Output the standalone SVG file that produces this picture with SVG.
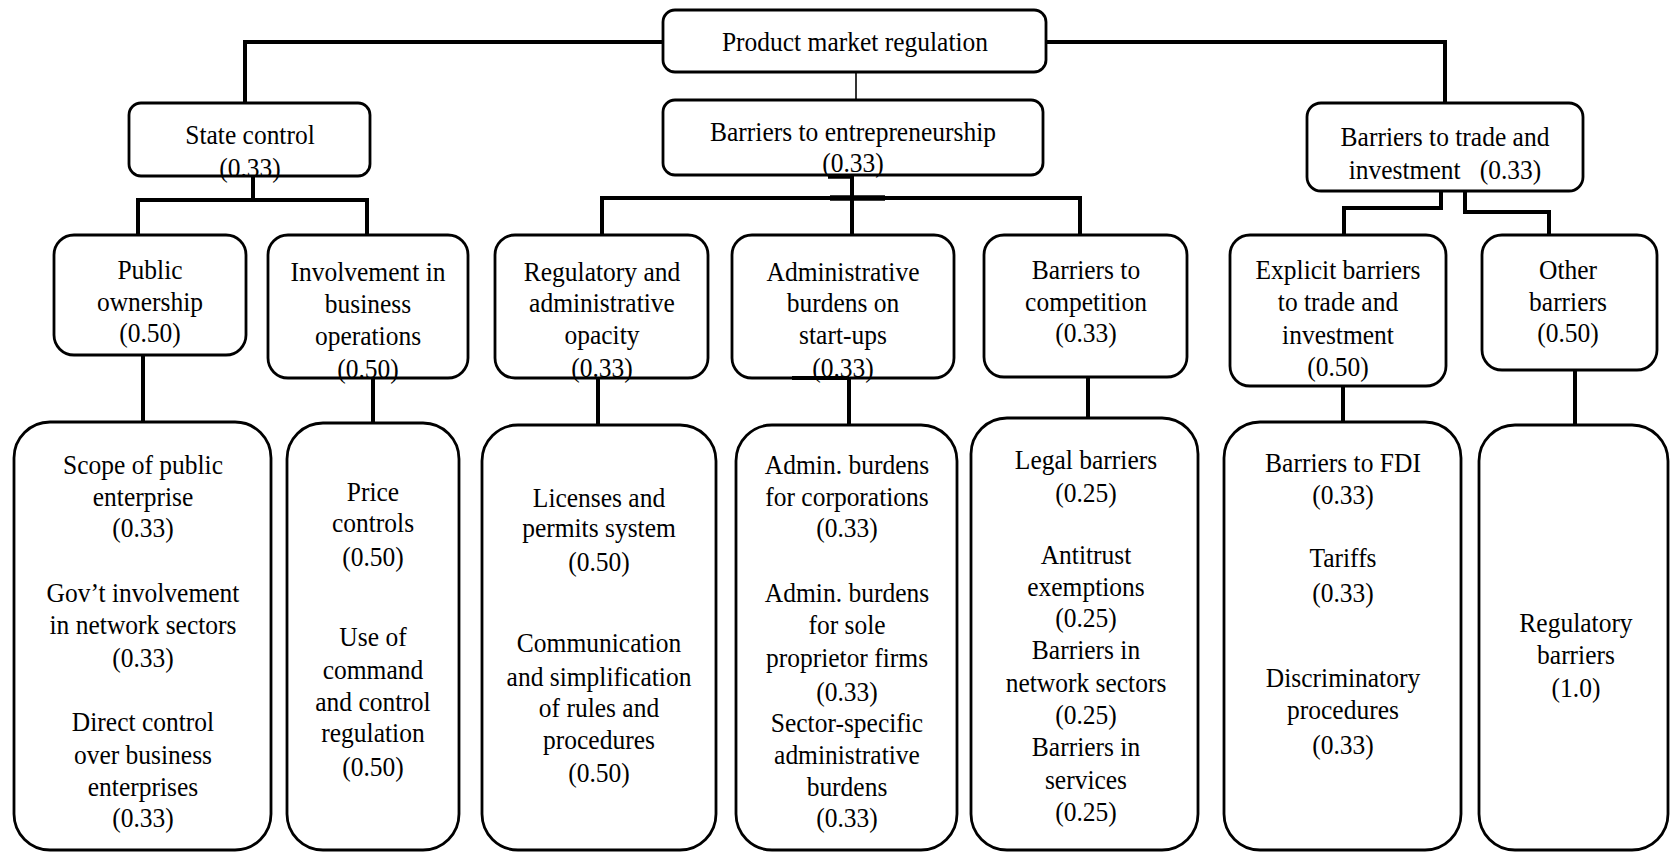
<svg xmlns="http://www.w3.org/2000/svg" width="1671" height="853" viewBox="0 0 1671 853">
<style>
.bx{fill:#fff;stroke:#000;stroke-width:2.8}
.c{fill:none;stroke:#000;stroke-width:4;stroke-linejoin:miter;stroke-linecap:butt}
.thin{fill:none;stroke:#000;stroke-width:1.6}
text{font-family:"Liberation Serif","Times New Roman",serif;font-size:25.5px;fill:#000;text-anchor:middle;transform-box:fill-box;transform-origin:center;transform:scaleY(1.1)}
</style>
<rect width="1671" height="853" fill="#fff"/>
<g id="connectors">
<path class="c" d="M663,42 H245 V103"/>
<path class="c" d="M1046,42 H1445 V103"/>
<path class="thin" d="M856,72 V100"/>
<path class="c" d="M253,176 V200"/>
<path class="c" d="M138,234 V200 H367 V234"/>
<path class="c" d="M852,175 V234"/>
<path class="c" d="M602,234 V198 H1080 V234"/>
<path class="c" d="M830,198 H885" style="stroke-width:5.5"/>
<path class="c" d="M828,177 H852" style="stroke-width:3.5"/>
<path class="c" d="M1441,191 V208 H1344 V234"/>
<path class="c" d="M1465,191 V212 H1549 V234"/>
<path class="c" d="M143,355 V422"/>
<path class="c" d="M373,378 V423"/>
<path class="c" d="M598,378 V425"/>
<path class="c" d="M849,378 V425"/>
<path class="c" d="M1088,377 V418"/>
<path class="c" d="M1343,386 V422"/>
<path class="c" d="M1575,370 V425"/>
</g>
<g id="root">
<rect class="bx" x="663" y="10" width="383" height="62" rx="12"/>
<text x="855" y="50">Product market regulation</text>
</g>
<g id="state-control">
<rect class="bx" x="129" y="103" width="241" height="73" rx="12"/>
<text x="250" y="143">State control</text>
<text x="250" y="176">(0.33)</text>
</g>
<g id="barriers-entrepreneurship">
<rect class="bx" x="663" y="100" width="380" height="75" rx="12"/>
<text x="853" y="140">Barriers to entrepreneurship</text>
<text x="853" y="171">(0.33)</text>
</g>
<g id="barriers-trade">
<rect class="bx" x="1307" y="103" width="276" height="88" rx="14"/>
<text x="1445" y="145">Barriers to trade and</text>
<text x="1445" y="178">investment&#160;&#160; (0.33)</text>
</g>
<g id="public-ownership">
<rect class="bx" x="54" y="235" width="192" height="120" rx="20"/>
<text x="150" y="278">Public</text>
<text x="150" y="310">ownership</text>
<text x="150" y="341">(0.50)</text>
</g>
<g id="involvement">
<rect class="bx" x="268" y="235" width="200" height="143" rx="20"/>
<text x="368" y="280">Involvement in</text>
<text x="368" y="312">business</text>
<text x="368" y="344">operations</text>
<text x="368" y="377">(0.50)</text>
</g>
<g id="regulatory-opacity">
<rect class="bx" x="495" y="235" width="213" height="143" rx="20"/>
<text x="602" y="280">Regulatory and</text>
<text x="602" y="311">administrative</text>
<text x="602" y="343">opacity</text>
<text x="602" y="376">(0.33)</text>
</g>
<g id="admin-burdens">
<rect class="bx" x="732" y="235" width="222" height="143" rx="20"/>
<path d="M792,378 H849" stroke="#000" stroke-width="4"/>
<text x="843" y="280">Administrative</text>
<text x="843" y="311">burdens on</text>
<text x="843" y="343">start-ups</text>
<text x="843" y="376">(0.33)</text>
</g>
<g id="barriers-competition">
<rect class="bx" x="984" y="235" width="203" height="142" rx="20"/>
<text x="1086" y="278">Barriers to</text>
<text x="1086" y="310">competition</text>
<text x="1086" y="341">(0.33)</text>
</g>
<g id="explicit-barriers">
<rect class="bx" x="1230" y="235" width="216" height="151" rx="20"/>
<text x="1338" y="278">Explicit barriers</text>
<text x="1338" y="310">to trade and</text>
<text x="1338" y="343">investment</text>
<text x="1338" y="375">(0.50)</text>
</g>
<g id="other-barriers">
<rect class="bx" x="1482" y="235" width="175" height="135" rx="20"/>
<text x="1568" y="278">Other</text>
<text x="1568" y="310">barriers</text>
<text x="1568" y="341">(0.50)</text>
</g>
<g id="leaf-public">
<rect class="bx" x="14" y="422" width="257" height="428" rx="36"/>
<text x="143" y="473">Scope of public</text>
<text x="143" y="505">enterprise</text>
<text x="143" y="536">(0.33)</text>
<text x="143" y="601">Gov’t involvement</text>
<text x="143" y="633">in network sectors</text>
<text x="143" y="666">(0.33)</text>
<text x="143" y="730">Direct control</text>
<text x="143" y="763">over business</text>
<text x="143" y="795">enterprises</text>
<text x="143" y="826">(0.33)</text>
</g>
<g id="leaf-involvement">
<rect class="bx" x="287" y="423" width="172" height="427" rx="36"/>
<text x="373" y="500">Price</text>
<text x="373" y="531">controls</text>
<text x="373" y="565">(0.50)</text>
<text x="373" y="645">Use of</text>
<text x="373" y="678">command</text>
<text x="373" y="710">and control</text>
<text x="373" y="741">regulation</text>
<text x="373" y="775">(0.50)</text>
</g>
<g id="leaf-regulatory">
<rect class="bx" x="482" y="425" width="234" height="425" rx="36"/>
<text x="599" y="506">Licenses and</text>
<text x="599" y="536">permits system</text>
<text x="599" y="570">(0.50)</text>
<text x="599" y="651">Communication</text>
<text x="599" y="685">and simplification</text>
<text x="599" y="716">of rules and</text>
<text x="599" y="748">procedures</text>
<text x="599" y="781">(0.50)</text>
</g>
<g id="leaf-admin">
<rect class="bx" x="736" y="425" width="221" height="425" rx="36"/>
<text x="847" y="473">Admin. burdens</text>
<text x="847" y="505">for corporations</text>
<text x="847" y="536">(0.33)</text>
<text x="847" y="601">Admin. burdens</text>
<text x="847" y="633">for sole</text>
<text x="847" y="666">proprietor firms</text>
<text x="847" y="700">(0.33)</text>
<text x="847" y="731">Sector-specific</text>
<text x="847" y="763">administrative</text>
<text x="847" y="795">burdens</text>
<text x="847" y="826">(0.33)</text>
</g>
<g id="leaf-competition">
<rect class="bx" x="971" y="418" width="227" height="432" rx="36"/>
<text x="1086" y="468">Legal barriers</text>
<text x="1086" y="501">(0.25)</text>
<text x="1086" y="563">Antitrust</text>
<text x="1086" y="595">exemptions</text>
<text x="1086" y="626">(0.25)</text>
<text x="1086" y="658">Barriers in</text>
<text x="1086" y="691">network sectors</text>
<text x="1086" y="723">(0.25)</text>
<text x="1086" y="755">Barriers in</text>
<text x="1086" y="788">services</text>
<text x="1086" y="820">(0.25)</text>
</g>
<g id="leaf-explicit">
<rect class="bx" x="1224" y="422" width="237" height="428" rx="36"/>
<text x="1343" y="471">Barriers to FDI</text>
<text x="1343" y="503">(0.33)</text>
<text x="1343" y="566">Tariffs</text>
<text x="1343" y="601">(0.33)</text>
<text x="1343" y="686">Discriminatory</text>
<text x="1343" y="718">procedures</text>
<text x="1343" y="753">(0.33)</text>
</g>
<g id="leaf-other">
<rect class="bx" x="1479" y="425" width="189" height="425" rx="36"/>
<text x="1576" y="631">Regulatory</text>
<text x="1576" y="663">barriers</text>
<text x="1576" y="696">(1.0)</text>
</g>
</svg>
